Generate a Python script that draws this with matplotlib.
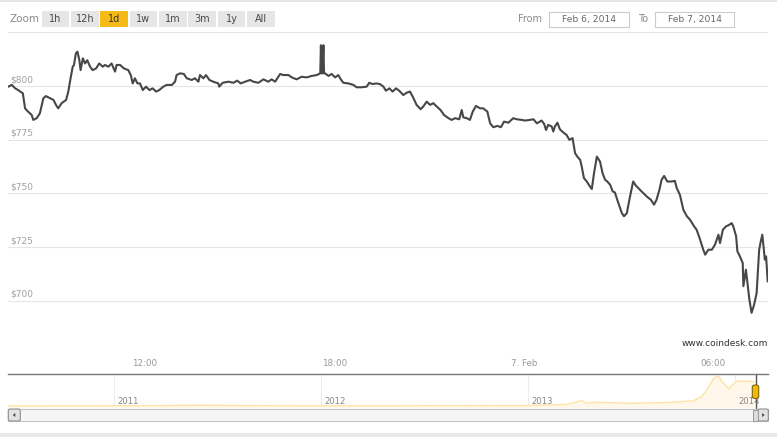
import matplotlib
matplotlib.use("Agg")
import matplotlib.pyplot as plt
import matplotlib.transforms as mtransforms
from matplotlib.patches import Rectangle, FancyBboxPatch, Polygon

W, H = 777, 437

# price series: hours since 6 Feb 2014 00:00, price in USD
hours = [
    7.67, 7.78, 7.88, 7.99, 8.13, 8.20, 8.30, 8.41, 8.46, 8.57, 8.67, 8.78, 8.86, 8.99,
    9.10, 9.18, 9.25, 9.36, 9.50, 9.57, 9.65, 9.71, 9.75, 9.81, 9.86, 9.92, 9.96, 10.03,
    10.10, 10.17, 10.26, 10.34, 10.45, 10.55, 10.66, 10.73, 10.84, 10.94, 11.05, 11.10,
    11.21, 11.33, 11.47, 11.55, 11.61, 11.68, 11.76, 11.84, 11.93, 12.03, 12.14, 12.24,
    12.35, 12.45, 12.58, 12.69, 12.85, 12.95, 13.00, 13.11, 13.23, 13.32, 13.48, 13.58,
    13.69, 13.74, 13.85, 13.93, 14.04, 14.16, 14.32, 14.35, 14.46, 14.64, 14.80, 14.92,
    15.03, 15.17, 15.33, 15.43, 15.59, 15.75, 15.90, 16.01, 16.12, 16.19, 16.28, 16.38,
    16.54, 16.65, 16.80, 16.96, 17.12, 17.28, 17.44, 17.55, 17.57, 17.59, 17.62, 17.65,
    17.67, 17.70, 17.81, 17.91, 18.02, 18.12, 18.20, 18.28, 18.44, 18.60, 18.70, 18.86,
    19.02, 19.10, 19.21, 19.32, 19.44, 19.55, 19.63, 19.74, 19.84, 19.95, 20.05, 20.18,
    20.29, 20.39, 20.48, 20.60, 20.73, 20.81, 20.92, 21.03, 21.13, 21.24, 21.36, 21.47,
    21.61, 21.71, 21.82, 21.95, 22.03, 22.08, 22.19, 22.29, 22.38, 22.48, 22.61, 22.71,
    22.84, 22.93, 23.03, 23.16, 23.27, 23.37, 23.51, 23.66, 23.77, 23.93, 24.03, 24.19,
    24.30, 24.41, 24.56, 24.64, 24.70, 24.77, 24.88, 24.93, 24.98, 25.06, 25.14, 25.25,
    25.35, 25.44, 25.54, 25.62, 25.69, 25.78, 25.83, 25.90, 25.99, 26.09, 26.15, 26.22,
    26.31, 26.41, 26.49, 26.57, 26.64, 26.73, 26.81, 26.88, 26.99, 27.10, 27.17, 27.26,
    27.36, 27.46, 27.55, 27.65, 27.78, 27.89, 28.02, 28.12, 28.20, 28.29, 28.36, 28.44,
    28.54, 28.68, 28.78, 28.84, 28.94, 29.05, 29.16, 29.26, 29.39, 29.47, 29.58, 29.68,
    29.74, 29.84, 29.95, 30.05, 30.16, 30.21, 30.30, 30.40, 30.50, 30.58, 30.63, 30.72,
    30.76, 30.84, 30.93, 30.95, 31.03, 31.08, 31.14, 31.21, 31.29, 31.37, 31.45, 31.50,
    31.55, 31.63, 31.67, 31.72,
]
prices = [
    799.7, 800.5, 799.0, 798.0, 796.6, 789.6, 788.0, 786.5, 784.2, 785.0, 787.3, 794.3, 795.3, 794.3,
    793.5, 791.2, 789.6, 792.0, 793.5, 797.4, 804.3, 809.0, 809.8, 815.2, 816.0, 812.0, 807.4, 812.9,
    810.5, 812.0, 809.0, 807.4, 808.2, 810.5, 809.0, 809.8, 809.0, 810.5, 806.7, 809.8,
    809.8, 808.2, 807.4, 805.0, 801.2, 803.6, 801.2, 801.2, 798.1, 799.7, 798.1, 798.9,
    797.4, 798.1, 799.7, 800.5, 800.5, 802.0, 805.1, 805.9, 805.6, 803.6, 802.8, 803.6,
    802.0, 805.1, 803.6, 805.1, 802.8, 802.0, 801.2, 799.7, 801.5, 802.0, 801.5, 802.5,
    801.2, 802.0, 802.8, 802.0, 801.5, 803.1, 802.0, 803.1, 802.0, 803.6, 805.6, 805.1,
    805.1, 804.0, 803.1, 804.3, 804.0, 804.7, 805.1, 805.9, 819.0, 805.9, 805.9, 819.0,
    805.9, 805.9, 804.7, 805.6, 804.0, 805.1, 803.1, 801.5, 801.2, 800.5, 799.4, 799.4,
    799.7, 801.5, 800.9, 801.2, 800.9, 799.7, 797.8, 798.9, 797.4, 798.9, 797.8, 795.8,
    796.9, 797.4, 795.0, 791.2, 789.2, 790.4, 792.7, 791.2, 792.0, 790.4, 788.8, 786.5,
    785.0, 784.2, 785.0, 784.5, 788.8, 785.4, 785.0, 784.2, 788.1, 790.7, 789.6, 789.6,
    788.1, 782.6, 780.8, 781.4, 780.8, 783.4, 782.9, 785.0, 784.5, 784.2, 783.9, 784.2,
    784.5, 782.6, 783.9, 782.3, 779.5, 781.9, 781.1, 778.8, 781.1, 782.9, 779.8, 778.3,
    777.2, 774.9, 775.7, 768.7, 767.1, 765.6, 762.5, 757.1, 755.5, 753.2, 752.0, 759.4,
    767.1, 764.8, 759.4, 756.3, 755.5, 754.0, 750.9, 750.4, 745.5, 740.8, 739.3, 740.8,
    748.5, 755.5, 753.5, 752.0, 750.1, 748.5, 747.0, 744.7, 747.0, 751.6, 756.3, 758.1,
    755.5, 755.5, 755.8, 752.4, 749.3, 742.3, 739.3, 737.7, 734.6, 733.0, 728.4, 723.7,
    721.4, 723.7, 723.7, 726.0, 730.7, 726.8, 733.0, 734.6, 735.3, 736.1, 734.6, 730.0,
    723.0, 720.6, 717.5, 706.7, 714.4, 708.2, 700.5, 694.3, 698.1, 703.5, 723.7, 727.5,
    730.7, 719.1, 720.6, 709.0,
]

y_ticks = [700, 725, 750, 775, 800, 825]
x_ticks = [12, 18, 24, 30]
x_tick_labels = ["12:00", "18:00", "7. Feb", "06:00"]

# navigator: whole history, decimal years vs price
nav_years = [2010.49, 2010.9, 2011.2, 2011.42, 2011.7, 2012.0, 2012.38, 2012.7, 2012.99,
             2013.19, 2013.26, 2013.28, 2013.32, 2013.51, 2013.67, 2013.80, 2013.84,
             2013.87, 2013.90, 2013.92, 2013.94, 2013.97, 2013.99, 2014.01, 2014.09]
nav_prices = [2, 5, 10, 28, 8, 5, 6, 10, 13,
              60, 210, 110, 140, 100, 130, 200, 370,
              700, 1100, 1150, 900, 660, 830, 960, 940]
nav_year_ticks = [2011, 2012, 2013, 2014]
selected_start = 2014 + 36 / 365

zoom_buttons = ["1h", "12h", "1d", "1w", "1m", "3m", "1y", "All"]
selected_button = "1d"
date_from = "Feb 6, 2014"
date_to = "Feb 7, 2014"


def box(x0, y0, x1, y1):
    return [x0 / W, 1 - y1 / H, (x1 - x0) / W, (y1 - y0) / H]


def rect_px(fig, x0, y0, x1, y1, **kw):
    r = Rectangle((x0 / W, 1 - y1 / H), (x1 - x0) / W, (y1 - y0) / H,
                  transform=fig.transFigure, **kw)
    fig.add_artist(r)
    return r


def text_px(fig, x, y, s, **kw):
    fig.text(x / W, 1 - y / H, s, **kw)


fig = plt.figure(figsize=(W / 100, H / 100), dpi=100)
fig.patch.set_facecolor("white")

# top and bottom bands
rect_px(fig, 0, 0, W, 2, facecolor="#e6e6e6", edgecolor="none")
rect_px(fig, 0, 433, W, H, facecolor="#e8e8e8", edgecolor="none")

# main chart
ax = fig.add_axes(box(8, 31.7, 768, 374))
ax.set_xlim(7.66, 31.73)
ax.set_ylim(665.8, 825.3)
for s in ax.spines.values():
    s.set_visible(False)
ax.set_yticks(y_ticks)
ax.set_xticks([])
ax.tick_params(axis="y", length=0, labelleft=False)
ax.yaxis.grid(True, color="#e6e6e6", linewidth=0.8)
ax.set_axisbelow(True)
ax.plot(hours, prices, color="#474747", linewidth=1.5, solid_joinstyle="round")

ylab_tr = mtransforms.blended_transform_factory(ax.transAxes, ax.transData)
for v in y_ticks[:-1]:
    ax.annotate(f"${v}", (0, v), xycoords=ylab_tr, xytext=(1.6, 1.2),
                textcoords="offset points", ha="left", va="bottom",
                fontsize=6.5, color="#a0a0a0")

xlab_tr = mtransforms.blended_transform_factory(ax.transData, ax.transAxes)
for xt, lab in zip(x_ticks, x_tick_labels):
    ax.text(xt, (374 - 363) / (374 - 31.7), lab, transform=xlab_tr,
            ha="center", va="center", fontsize=6.3, color="#999999")

text_px(fig, 768, 344, "www.coindesk.com", ha="right", va="center",
        fontsize=6.5, color="#333333")

# navigator
nav = fig.add_axes(box(8, 374, 768, 408))
nav.set_xlim(2010.488, 2014.159)
nav.set_ylim(-80, 1230)
nav.patch.set_alpha(0)
for k in ("left", "right", "bottom"):
    nav.spines[k].set_visible(False)
nav.spines["top"].set_color("#777777")
nav.spines["top"].set_linewidth(1.0)
nav.set_yticks([])
nav.set_xticks(nav_year_ticks)
nav.tick_params(axis="x", length=0, labelbottom=False)
nav.xaxis.grid(True, color="#ececec", linewidth=0.8)
nav.set_axisbelow(True)
nav.fill_between(nav_years, nav_prices, -80, color="#fff8ea", linewidth=0)
nav.plot(nav_years, nav_prices, color="#fde3a6", linewidth=1.0)
navlab_tr = mtransforms.blended_transform_factory(nav.transData, nav.transAxes)
for yr in nav_year_ticks:
    nav.annotate(str(yr), (yr, 2 / 34), xycoords=navlab_tr, xytext=(2.2, 0),
                 textcoords="offset points", ha="left", va="bottom",
                 fontsize=6.1, color="#888888")

# handle of the selected range
nav.axvline(selected_start, ymin=-10 / 34, ymax=1, color="#555555",
            linewidth=1.0, clip_on=False)
fig.canvas.draw()
hx = nav.transData.transform((selected_start, 0))[0]
hand = FancyBboxPatch(((hx - 3.2) / W, 1 - 398.5 / H), 6.4 / W, 13.5 / H,
                      boxstyle="round,pad=0,rounding_size=0.004",
                      transform=fig.transFigure, facecolor="#f5b800",
                      edgecolor="#7a6410", linewidth=0.8, zorder=5)
fig.add_artist(hand)

# scrollbar
rect_px(fig, 8, 409, 768, 421, facecolor="#f6f6f6", edgecolor="#c4c4c4", linewidth=0.8)
for bx0, bx1, dirn in [(8.3, 20.3, -1), (758, 768.3, 1)]:
    b = FancyBboxPatch((bx0 / W, 1 - 421 / H), (bx1 - bx0) / W, 12 / H,
                       boxstyle="round,pad=0,rounding_size=0.003",
                       transform=fig.transFigure, facecolor="#e2e2e2",
                       edgecolor="#8f8f8f", linewidth=0.8)
    fig.add_artist(b)
    cx, cy = (bx0 + bx1) / 2, 415
    tri = [(cx + dirn * 1.5, cy), (cx - dirn * 1.0, cy - 2), (cx - dirn * 1.0, cy + 2)]
    fig.add_artist(Polygon([(px / W, 1 - py / H) for px, py in tri], closed=True,
                           transform=fig.transFigure, facecolor="#444444",
                           edgecolor="none"))
rect_px(fig, 753, 409.5, 758, 420.5, facecolor="#dcdcdc", edgecolor="#9a9a9a", linewidth=0.7)

# range selector
text_px(fig, 9.3, 19, "Zoom", ha="left", va="center", fontsize=7.5, color="#8a8a8a")
for i, lab in enumerate(zoom_buttons):
    x0 = 41.7 + i * 29.35
    sel = lab == selected_button
    rect_px(fig, x0, 11, x0 + 27.5, 27, facecolor="#f6ba14" if sel else "#e6e6e6",
            edgecolor="none")
    text_px(fig, x0 + 13.75, 19.3, lab, ha="center", va="center", fontsize=7,
            color="#333333" if sel else "#4a4a4a")

text_px(fig, 530, 19.3, "From", ha="center", va="center", fontsize=7, color="#8a8a8a")
rect_px(fig, 549.3, 11.7, 628.7, 26.7, facecolor="white", edgecolor="#cccccc", linewidth=0.8)
text_px(fig, 589, 19.3, date_from, ha="center", va="center", fontsize=6.6, color="#666666")
text_px(fig, 643.5, 19.3, "To", ha="center", va="center", fontsize=7, color="#8a8a8a")
rect_px(fig, 654.7, 11.7, 734.3, 26.7, facecolor="white", edgecolor="#cccccc", linewidth=0.8)
text_px(fig, 694.5, 19.3, date_to, ha="center", va="center", fontsize=6.6, color="#666666")

fig.savefig("out.png", dpi=100)
